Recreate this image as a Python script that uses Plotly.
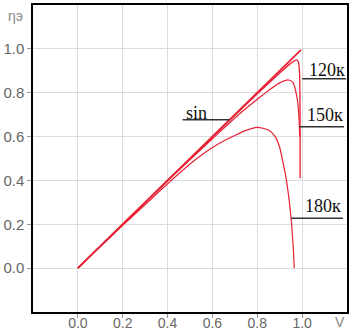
import plotly.graph_objects as go

# Data
sin_x = [0.0, 0.995]
sin_y = [0.0, 0.995]

k120_x = [0.0, 0.2, 0.4, 0.6, 0.8, 0.9, 0.95, 0.965, 0.975, 0.983, 0.988, 0.990, 0.991, 0.991]
k120_y = [0.0, 0.2, 0.4, 0.598, 0.795, 0.89, 0.935, 0.945, 0.95, 0.94, 0.90, 0.80, 0.60, 0.41]

k150_x = [0.0, 0.2, 0.4, 0.6, 0.72, 0.8, 0.85, 0.9, 0.94, 0.96, 0.975, 0.982, 0.987, 0.989]
k150_y = [0.0, 0.2, 0.398, 0.59, 0.703, 0.77, 0.81, 0.845, 0.858, 0.845, 0.79, 0.74, 0.66, 0.60]

k180_x = [0.0, 0.1, 0.2, 0.3, 0.4, 0.5, 0.55, 0.6, 0.65, 0.7, 0.75, 0.8, 0.85, 0.88, 0.9, 0.913, 0.93, 0.95, 0.96, 0.965]
k180_y = [0.0, 0.098, 0.195, 0.29, 0.385, 0.475, 0.515, 0.55, 0.58, 0.605, 0.628, 0.642, 0.63, 0.6, 0.55, 0.49, 0.40, 0.235, 0.10, 0.0]

tick_vals = [0.0, 0.2, 0.4, 0.6, 0.8, 1.0]
tick_text = ["0.0", "0.2", "0.4", "0.6", "0.8", "1.0"]

labels = ["sin", "120к", "150к", "180к"]
label_x = [0.476, 1.027, 1.018, 1.009]
label_y = [0.709, 0.905, 0.70, 0.282]
leader_x0 = [0.467, 1.0, 0.987, 0.951]
leader_x1 = [0.676, 1.196, 1.187, 1.182]
leader_y = [0.677, 0.864, 0.645, 0.227]

RED = "rgb(232,32,52)"

fig = go.Figure()
fig.add_trace(go.Scatter(x=sin_x, y=sin_y, mode="lines", line=dict(color=RED, width=1.8)))
fig.add_trace(go.Scatter(x=k120_x, y=k120_y, mode="lines", line=dict(color=RED, width=1.3, shape="spline", smoothing=0.6)))
fig.add_trace(go.Scatter(x=k150_x, y=k150_y, mode="lines", line=dict(color=RED, width=1.2, shape="spline", smoothing=0.6)))
fig.add_trace(go.Scatter(x=k180_x, y=k180_y, mode="lines", line=dict(color=RED, width=1.2, shape="spline", smoothing=0.6)))

for t, lx, ly, x0, x1, yy in zip(labels, label_x, label_y, leader_x0, leader_x1, leader_y):
    fig.add_shape(type="line", x0=x0, x1=x1, y0=yy, y1=yy, xref="x", yref="y",
                  line=dict(color="#333333", width=1.5))
    fig.add_annotation(x=lx, y=ly, text=t, showarrow=False, xanchor="left", yanchor="middle",
                       xref="x", yref="y", borderpad=0,
                       font=dict(family="Liberation Sans", size=1, color="rgba(0,0,0,0)") if False else
                       dict(family="Liberation Serif", size=18, color="#111111"))

fig.add_annotation(x=1.17, y=-0.2, text="V", showarrow=False, xref="x", yref="y",
                   yanchor="top", yshift=-1, borderpad=0,
                   font=dict(family="Liberation Sans", size=14, color="#888888"))
fig.add_annotation(x=0, y=1.15, text="ηэ", showarrow=False, xref="paper", yref="y",
                   xanchor="right", xshift=-8, font=dict(family="Liberation Sans", size=14, color="#888888"))

axis_common = dict(
    range=[-0.2, 1.2], tickvals=tick_vals, ticktext=tick_text,
    showgrid=True, gridcolor="#dcdcdc", gridwidth=1, zeroline=False,
    showline=True, linecolor="black", linewidth=1.5, mirror=True,
    ticks="outside", ticklen=4, tickcolor="#999999",
    automargin=False,
)
fig.update_xaxes(**axis_common, ticklabelstandoff=-7,
                 tickfont=dict(family="Liberation Sans", size=14, color="#666666"))
fig.update_yaxes(**axis_common,
                 tickfont=dict(family="Liberation Sans", size=15, color="#666666"))

fig.update_layout(
    width=356, height=330,
    margin=dict(l=33, r=9, t=5, b=18),
    plot_bgcolor="white", paper_bgcolor="white",
    showlegend=False,
)

fig.write_html("out.html", config={"displayModeBar": False},
               post_script="document.body.style.margin='0';document.body.style.padding='0';")
